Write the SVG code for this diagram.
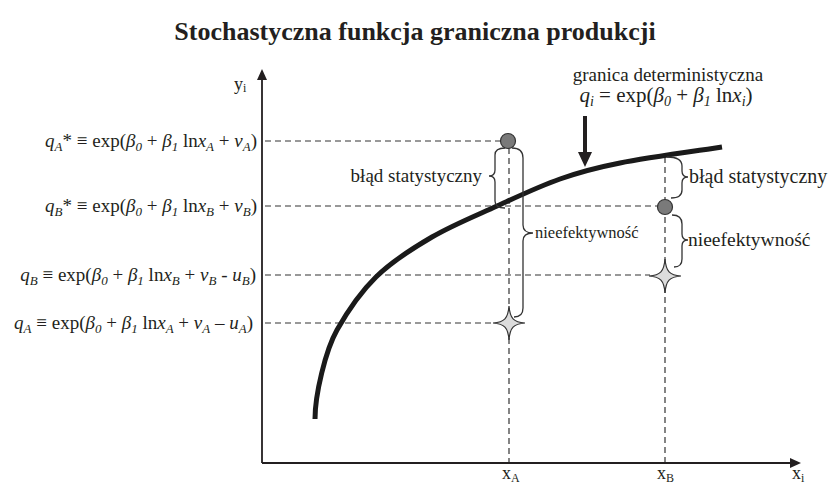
<svg xmlns="http://www.w3.org/2000/svg" width="830" height="485" viewBox="0 0 830 485">
<defs>
<style>
.t{font-family:"Liberation Serif","Times New Roman",serif;fill:#231f20}
.f{font-size:19px}
.i{font-style:italic}
.s{font-size:13px}
.dash{fill:none;stroke:#333;stroke-width:1.2;stroke-dasharray:6 4}
.axis{fill:none;stroke:#231f20;stroke-width:1.8}
.brace{fill:none;stroke:#333;stroke-width:1.3}
.dot{fill:#7a7a7a;stroke:#333;stroke-width:1.2}
.star{fill:#dcdcdc;stroke:#333;stroke-width:1.2}
</style>
<path id="starShape" d="M0,-17 C1,-4.5 4.5,-1 16,0 C4.5,1 1,4.5 0,17 C-1,4.5 -4.5,1 -16,0 C-4.5,-1 -1,-4.5 0,-17Z"/>
</defs>
<rect width="830" height="485" fill="#fff"/>
<text class="t" x="415" y="40" text-anchor="middle" font-size="26" font-weight="bold">Stochastyczna funkcja graniczna produkcji</text>

<g id="connectors">
<line class="dash" x1="265" y1="141" x2="501" y2="141"/>
<line class="dash" x1="265" y1="206" x2="658" y2="206"/>
<line class="dash" x1="265" y1="275" x2="650" y2="275"/>
<line class="dash" x1="265" y1="323" x2="494" y2="323"/>
<line class="dash" x1="509" y1="148" x2="509" y2="463"/>
<line class="dash" x1="665" y1="157" x2="665" y2="463"/>
<path class="axis" d="M262,463 V78"/>
<path d="M262,69 L257,80 L267,80Z" fill="#231f20"/>
<path class="axis" d="M262,463 H791"/>
<path d="M801,463 L790,458 L790,468Z" fill="#231f20"/>
<path d="M585,116 V155" stroke="#231f20" stroke-width="4" fill="none"/>
<path d="M585,167 L578,152 L592,152Z" fill="#231f20"/>
</g>

<g id="frontier">
<path d="M315,419 C315,395 325.4,350.6 337,330 C346.7,312.8 360.2,292.5 376,277 C391.8,261.5 411.8,248.8 432,237 C452.2,225.2 475.7,215.7 497,206 C518.3,196.3 539.5,186.2 560,179 C580.5,171.8 593,168.3 620,163 C647,157.7 705,149.7 722,147" fill="none" stroke="#1a1a1a" stroke-width="5"/>
</g>

<g id="pointA">
<circle class="dot" cx="508" cy="141" r="7.5"/>
<use href="#starShape" class="star" x="509" y="323"/>
<path class="brace" d="M505,148 Q495,148 495,155 L495,170 Q495,176 489,176 Q495,176 495,182 L495,201 Q495,208 505,208"/>
<path class="brace" d="M512,148 Q523,148 523,158 L523,225 Q523,233 533,233 Q523,233 523,241 L523,308 Q523,317 514,317"/>
<text class="t" x="482" y="182" text-anchor="end" font-size="19">błąd statystyczny</text>
<text class="t" x="535" y="238" font-size="16.5">nieefektywność</text>
</g>

<g id="pointB">
<circle class="dot" cx="665" cy="207" r="7.5"/>
<use href="#starShape" class="star" x="665" y="276"/>
<path class="brace" d="M667,157 Q682,157 682,166 L682,171 Q682,177 688,177 Q682,177 682,183 L682,190 Q682,198 671,198"/>
<path class="brace" d="M672,215 Q682,215 682,224 L682,234 Q682,240 688,240 Q682,240 682,246 L682,259 Q682,267 674,267"/>
<text class="t" x="689" y="183" font-size="20">błąd statystyczny</text>
<text class="t" x="688" y="246" font-size="19.5">nieefektywność</text>
</g>

<g id="label-frontier">
<text class="t" x="668" y="81" text-anchor="middle" font-size="19">granica deterministyczna</text>
<text class="t" x="666" y="102" text-anchor="middle" font-size="21"><tspan class="i">q</tspan><tspan class="i" font-size="14" dy="4">i</tspan><tspan dy="-4"> = exp(</tspan><tspan class="i">β</tspan><tspan class="i" font-size="14" dy="4">0</tspan><tspan dy="-4"> + </tspan><tspan class="i">β</tspan><tspan class="i" font-size="14" dy="4">1</tspan><tspan dy="-4"> ln</tspan><tspan class="i">x</tspan><tspan class="i" font-size="14" dy="4">i</tspan><tspan dy="-4">)</tspan></text>
</g>

<g id="y-labels">
<text class="t f" x="257" y="147" text-anchor="end"><tspan class="i">q</tspan><tspan class="i s" dy="4">A</tspan><tspan dy="-4">* </tspan><tspan> ≡ exp(</tspan><tspan class="i">β</tspan><tspan class="i s" dy="4">0</tspan><tspan dy="-4"> + </tspan><tspan class="i">β</tspan><tspan class="i s" dy="4">1</tspan><tspan dy="-4"> ln</tspan><tspan class="i">x</tspan><tspan class="i s" dy="4">A</tspan><tspan dy="-4"> + </tspan><tspan class="i">v</tspan><tspan class="i s" dy="4">A</tspan><tspan dy="-4">)</tspan></text>
<text class="t f" x="257" y="212" text-anchor="end"><tspan class="i">q</tspan><tspan class="i s" dy="4">B</tspan><tspan dy="-4">* </tspan><tspan> ≡ exp(</tspan><tspan class="i">β</tspan><tspan class="i s" dy="4">0</tspan><tspan dy="-4"> + </tspan><tspan class="i">β</tspan><tspan class="i s" dy="4">1</tspan><tspan dy="-4"> ln</tspan><tspan class="i">x</tspan><tspan class="i s" dy="4">B</tspan><tspan dy="-4"> + </tspan><tspan class="i">v</tspan><tspan class="i s" dy="4">B</tspan><tspan dy="-4">)</tspan></text>
<text class="t f" x="256" y="281" text-anchor="end"><tspan class="i">q</tspan><tspan class="i s" dy="4">B</tspan><tspan dy="-4">  ≡ exp(</tspan><tspan class="i">β</tspan><tspan class="i s" dy="4">0</tspan><tspan dy="-4"> + </tspan><tspan class="i">β</tspan><tspan class="i s" dy="4">1</tspan><tspan dy="-4"> ln</tspan><tspan class="i">x</tspan><tspan class="i s" dy="4">B</tspan><tspan dy="-4"> + </tspan><tspan class="i">v</tspan><tspan class="i s" dy="4">B</tspan><tspan dy="-4"> - </tspan><tspan class="i">u</tspan><tspan class="i s" dy="4">B</tspan><tspan dy="-4">)</tspan></text>
<text class="t f" x="253" y="329" text-anchor="end"><tspan class="i">q</tspan><tspan class="i s" dy="4">A</tspan><tspan dy="-4">  ≡ exp(</tspan><tspan class="i">β</tspan><tspan class="i s" dy="4">0</tspan><tspan dy="-4"> + </tspan><tspan class="i">β</tspan><tspan class="i s" dy="4">1</tspan><tspan dy="-4"> ln</tspan><tspan class="i">x</tspan><tspan class="i s" dy="4">A</tspan><tspan dy="-4"> + </tspan><tspan class="i">v</tspan><tspan class="i s" dy="4">A</tspan><tspan dy="-4"> – </tspan><tspan class="i">u</tspan><tspan class="i s" dy="4">A</tspan><tspan dy="-4">)</tspan></text>
</g>

<g id="axis-labels">
<text class="t" x="234" y="90" font-size="18">y<tspan font-size="12" dy="2">i</tspan></text>
<text class="t" x="502" y="479" font-size="18">x<tspan font-size="12" dy="3">A</tspan></text>
<text class="t" x="657" y="479" font-size="18">x<tspan font-size="12" dy="3">B</tspan></text>
<text class="t" x="792" y="479" font-size="18">x<tspan font-size="12" dy="3">i</tspan></text>
</g>
</svg>
